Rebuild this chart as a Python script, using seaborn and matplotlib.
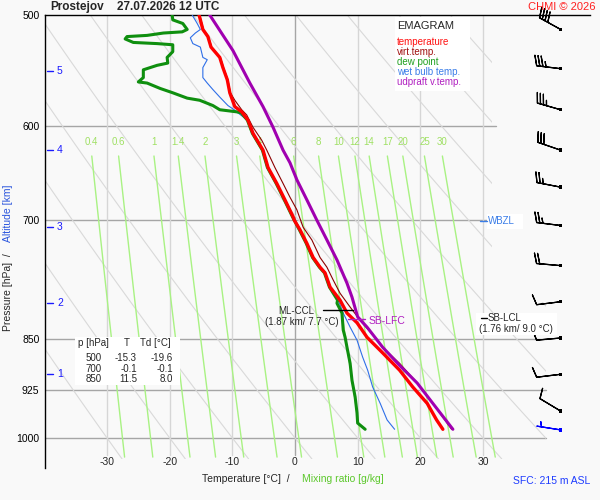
import numpy as np
import pandas as pd
import matplotlib
matplotlib.use("Agg")
import matplotlib.pyplot as plt
import matplotlib.transforms as mtransforms
from matplotlib.patches import Rectangle, Polygon
from matplotlib.ticker import NullLocator
import seaborn as sns

# Sounding values (pressure hPa, temperature degC)
temp_p = [500, 512, 518, 527, 536, 545, 556, 568, 581, 586, 594, 607, 624, 642, 659, 677, 696, 700,
          711, 727, 744, 756, 763, 781, 798, 815, 828, 848, 870, 895, 920, 945, 971, 986]
temp_t = [-15.3, -14.7, -13.9, -13.4, -12.0, -11.5, -10.8, -10.4, -9.6, -8.5, -7.5, -6.7, -5.1, -4.3,
          -2.9, -1.6, -0.3, -0.1, 0.8, 1.9, 2.9, 4.0, 4.8, 5.6, 7.2, 8.3, 9.9, 11.5, 14.0, 16.7, 18.8,
          21.1, 22.6, 23.6]

virt_p = [500, 512, 518, 527, 536, 545, 556, 568, 575, 584, 589, 601, 614, 624, 642, 659, 674, 688,
          708, 723, 744, 756, 772, 789, 807, 828, 848, 862, 885, 914, 945, 982, 986]
virt_t = [-15.2, -14.6, -13.8, -13.3, -11.9, -11.4, -10.7, -10.3, -9.6, -8.5, -7.7, -6.7, -5.3, -4.5,
          -3.2, -1.9, -0.8, 0.3, 1.3, 2.7, 4.0, 5.1, 6.1, 7.2, 8.8, 10.7, 12.8, 14.0, 16.7, 19.5, 22.0,
          24.7, 25.0]

dew_p = [500, 504, 507, 512, 514, 515, 517, 518, 520, 523, 524, 525, 531, 536, 541, 543, 547, 554,
         558, 559, 564, 568, 573, 575, 580, 584, 586, 587, 594, 607, 624, 642, 659, 677, 696, 700,
         711, 727, 744, 756, 763, 781, 798, 802, 815, 838, 848, 862, 885, 910, 935, 960, 976, 986]
dew_t = [-19.6, -19.5, -17.9, -17.2, -18.0, -21.0, -23.6, -26.8, -27.1, -25.8, -22.0, -19.5, -19.5,
         -20.4, -20.3, -22.0, -24.2, -24.2, -25.0, -23.6, -21.5, -19.5, -17.2, -15.2, -13.1, -12.0,
         -9.3, -8.6, -7.6, -6.8, -5.2, -4.4, -3.0, -1.7, -0.4, -0.1, 0.7, 1.8, 2.8, 3.9, 4.7, 5.5,
         6.8, 6.7, 7.5, 7.7, 8.0, 8.3, 8.8, 9.1, 9.6, 9.9, 10.0, 11.2]

wb_p = [500, 507, 512, 515, 519, 524, 527, 536, 538, 545, 554, 559, 565, 572, 580, 584, 587, 594,
        607, 624, 642, 659, 677, 696, 700, 711, 727, 744, 756, 763, 781, 798, 815, 834, 852, 876,
        895, 920, 945, 971, 986]
wb_t = [-16.4, -15.6, -15.1, -15.9, -16.7, -16.3, -15.1, -14.7, -14.0, -14.7, -14.7, -14.0, -13.1,
        -12.0, -10.7, -9.7, -9.1, -7.6, -6.8, -5.2, -4.4, -3.0, -1.7, -0.4, -0.1, 0.7, 1.8, 2.8, 3.9,
        4.7, 5.5, 6.9, 7.7, 8.8, 9.9, 10.8, 11.6, 12.4, 13.6, 14.7, 15.9]

parcel_p = [500, 530, 559, 581, 601, 624, 637, 655, 677, 700, 723, 747, 776, 794, 820, 834, 862,
            888, 914, 945, 986]
parcel_t = [-13.6, -9.9, -7.2, -5.1, -3.5, -1.9, -0.8, 0.3, 1.9, 3.5, 5.1, 6.7, 8.3, 9.1, 10.0, 11.5,
            14.0, 16.7, 19.5, 22.0, 25.2]

# wind barbs
wind_p = [512, 546, 584, 624, 663, 706, 754, 800, 849, 901, 957, 987]
wind_dir = [299, 277, 286, 289, 281, 277, 275, 263, 265, 263, 301, 279]
wind_kt = [40, 35, 35, 30, 25, 25, 20, 10, 10, 10, 10, 5]

# background grids
p_levels = [600, 700, 850, 925, 1000]
p_labels = ["500", "600", "700", "850", "925", "1000"]
t_grid = [-30, -20, -10, 0, 10, 20, 30]
theta_lines = list(range(-30, 110, 10))
mix_ratios = [0.4, 0.6, 1, 1.4, 2, 3, 4, 6, 8, 10, 12, 14, 17, 20, 25, 30]
mix_labels = ["0.4", "0.6", "1", "1.4", "2", "3", "4", "6", "8", "10", "12", "14", "17", "20", "25", "30"]
alt_km = [1, 2, 3, 4, 5]
alt_p = [901, 801, 708, 624, 548]

table_p = ["500", "700", "850"]
table_t = ["-15.3", "-0.1", "11.5"]
table_td = ["-19.6", "-0.1", "8.0"]

BG = "#f9f9f9"
ALT_BLUE = "#1a1aff"


def fx(x):
    return x / 600


def fy(y):
    return 1 - y / 500


sns.set_theme(style="white")
plt.rcParams['font.family'] = ['Liberation Sans', 'DejaVu Sans']

fig = plt.figure(figsize=(6, 5), dpi=100, facecolor=BG)
ax = fig.add_axes([fx(45), fy(468), 545 / 600, 453 / 500])
ax.set_facecolor(BG)
ax.set_yscale('log')
ax.set_xlim(-39.89, 47.08)
ax.set_ylim(1050.6, 500)

for s in ["right", "bottom"]:
    ax.spines[s].set_visible(False)
for s in ["left", "top"]:
    ax.spines[s].set_color("black")
    ax.spines[s].set_linewidth(1)

ax.set_yticks([500] + p_levels)
ax.set_yticklabels(p_labels)
ax.yaxis.set_minor_locator(NullLocator())
ax.set_xticks([])
ax.tick_params(axis='y', length=0, pad=4, labelsize=7.5, colors='black')

# plotting area is narrower in the upper part
clip = Polygon([(-39.89, 499), (31.5, 499), (31.5, 800), (40, 800), (40, 1035), (-39.89, 1035)],
               closed=True, transform=ax.transData, facecolor='none', edgecolor='none')
ax.add_patch(clip)

# isobars and isotherms
for p in p_levels:
    xmax = 32 if p < 800 else 40
    ax.plot([-39.89, xmax], [p, p], color="#a6a6a6", lw=1, zorder=1)
for t in t_grid:
    ax.plot([t, t], [500, 1028], color="#a6a6a6" if t == 0 else "#d6d6d6", lw=1, zorder=1)

# dry adiabats
pp = np.linspace(500, 1035, 80)
for th in theta_lines:
    tt = (th + 273.15) * (pp / 1000) ** 0.2857 - 273.15
    ln, = ax.plot(tt, pp, color="#d9d9d9", lw=0.8, zorder=1)
    ln.set_clip_path(clip)

# mixing ratio lines
pm = np.linspace(630, 1032, 60)
for w, lab in zip(mix_ratios, mix_labels):
    e = w * pm / (622 + w)
    a = np.log(e / 6.112)
    td = 243.5 * a / (17.67 - a)
    ln, = ax.plot(td, pm, color="#a9f283", lw=1, zorder=1.5)
    ln.set_clip_path(clip)
    ax.text(td[0], 616, lab, color="#9fe063", fontsize=7, ha='center', va='center', zorder=1.5)

# profiles
profiles = [
    (wb_t, wb_p, "#2f6fe8", 0.8),
    (dew_t, dew_p, "#0f8f0f", 2.2),
    (virt_t, virt_p, "#8b0000", 0.8),
    (temp_t, temp_p, "#ff0000", 2.4),
    (parcel_t, parcel_p, "#a000b0", 2.2),
]
for i, (t, p, c, lw) in enumerate(profiles):
    df = pd.DataFrame({"T": t, "p": p})
    sns.lineplot(data=df, x="T", y="p", sort=False, estimator=None, color=c, lw=lw, ax=ax,
                 zorder=3 + i)
ax.set_xlabel("")
ax.set_ylabel("")

# wind barbs
wd = np.radians(wind_dir)
u = -np.array(wind_kt) * np.sin(wd)
v = -np.array(wind_kt) * np.cos(wd)
bx = np.full(len(wind_p), 42.4)
cols = ["black"] * (len(wind_p) - 1) + ["#0000ff"]
ax.barbs(bx, wind_p, u, v, color=cols, length=5.9, linewidth=0.9, zorder=8, clip_on=False,
         sizes=dict(spacing=0.13, height=0.42))
ax.scatter(bx, wind_p, marker='s', s=6, c=cols, zorder=9, clip_on=False, linewidths=0)

# altitude ticks
trans = mtransforms.blended_transform_factory(ax.transAxes, ax.transData)
for km, p in zip(alt_km, alt_p):
    ax.plot([0.004, 0.015], [p, p], color=ALT_BLUE, lw=1, transform=trans, zorder=6)
    ax.text(0.022, p, str(km), color=ALT_BLUE, fontsize=7.5, va='center', ha='left',
            transform=trans, zorder=6)

# temperature tick labels
for t in t_grid:
    ax.text(t, 1040.5, str(t), fontsize=7.5, ha='center', va='center', zorder=6)

# titles and axis labels
fig.text(fx(50), fy(7), "Prostejov", fontsize=8.5, fontweight='bold', va='center', ha='left')
fig.text(fx(117), fy(7), "27.07.2026 12 UTC", fontsize=8.5, fontweight='bold', va='center', ha='left')
fig.text(fx(596), fy(7), "CHMI \u00a9 2026", fontsize=8, color="#ff2020", va='center', ha='right',
         zorder=12)
fig.text(fx(8), fy(292), "Pressure [hPa]  /", rotation=90, fontsize=7.5, va='center', ha='center')
fig.text(fx(8), fy(213), "Altitude [km]", rotation=90, fontsize=7.5, va='center', ha='center',
         color="#2a55dd")
fig.text(fx(290), fy(479), "Temperature [\u00b0C]  /", fontsize=7.5, va='center', ha='right')
fig.text(fx(302), fy(479), "Mixing ratio [g/kg]", fontsize=7.5, va='center', ha='left', color="#5cc82c")
fig.text(fx(590), fy(481), "SFC: 215 m ASL", fontsize=7.5, va='center', ha='right', color="#1e3cff")

# legend box
fig.patches.append(Rectangle((fx(395), fy(91)), 75 / 600, 74 / 500, transform=fig.transFigure,
                             facecolor="white", edgecolor="none", zorder=10))
fig.text(fx(397), fy(26), "EMAGRAM", fontsize=8, va='center', ha='left', zorder=11)
legend_items = [("temperature", "#ff1010"), ("virt.temp.", "#a01010"), ("dew point", "#20a020"),
                ("wet bulb temp.", "#3a7de8"), ("udpraft v.temp.", "#b020c0")]
for k, (lab, c) in enumerate(legend_items):
    fig.text(fx(397), fy(42 + 10 * k), lab, fontsize=7, color=c, va='center', ha='left', zorder=11)

# value table
fig.patches.append(Rectangle((fx(75), fy(385)), 105 / 600, 48 / 500, transform=fig.transFigure,
                             facecolor="white", edgecolor="none", zorder=10))
fig.text(fx(78), fy(343), "p [hPa]", fontsize=7, va='center', ha='left', zorder=11)
fig.text(fx(127), fy(343), "T", fontsize=7, va='center', ha='center', zorder=11)
fig.text(fx(140), fy(343), "Td [\u00b0C]", fontsize=7, va='center', ha='left', zorder=11)
for k in range(3):
    yy = fy(358 + 10.5 * k)
    fig.text(fx(102), yy, table_p[k], fontsize=7, va='center', ha='right', zorder=11)
    fig.text(fx(137), yy, table_t[k], fontsize=7, va='center', ha='right', zorder=11)
    fig.text(fx(173), yy, table_td[k], fontsize=7, va='center', ha='right', zorder=11)

# level annotations
fig.add_artist(plt.Line2D([fx(323), fx(353)], [fy(310), fy(310)], color="black", lw=1, zorder=11))
fig.text(fx(296), fy(311), "ML-CCL", fontsize=7, va='center', ha='center', zorder=11)
fig.text(fx(302), fy(322), "(1.87 km/ 7.7 \u00b0C)", fontsize=7, va='center', ha='center', zorder=11)

fig.add_artist(plt.Line2D([fx(348), fx(365)], [fy(319), fy(319)], color="#b020c0", lw=1, zorder=11))
fig.text(fx(369), fy(321), "SB-LFC", fontsize=7.5, va='center', ha='left', color="#b020c0", zorder=11)

fig.patches.append(Rectangle((fx(476), fy(335)), 81 / 600, 22 / 500, transform=fig.transFigure,
                             facecolor="white", edgecolor="none", zorder=10))
fig.add_artist(plt.Line2D([fx(481), fx(487)], [fy(318), fy(318)], color="black", lw=1, zorder=11))
fig.text(fx(488), fy(318), "SB-LCL", fontsize=7, va='center', ha='left', zorder=11)
fig.text(fx(516), fy(329), "(1.76 km/ 9.0 \u00b0C)", fontsize=7, va='center', ha='center', zorder=11)

fig.patches.append(Rectangle((fx(487), fy(229)), 36 / 600, 15 / 500, transform=fig.transFigure,
                             facecolor="white", edgecolor="none", zorder=10))
fig.add_artist(plt.Line2D([fx(480), fx(487)], [fy(221), fy(221)], color="#3a7de8", lw=1, zorder=11))
fig.text(fx(488), fy(221), "WBZL", fontsize=7, va='center', ha='left', color="#3a7de8", zorder=11)

fig.savefig("out.png", dpi=100, facecolor=BG)
